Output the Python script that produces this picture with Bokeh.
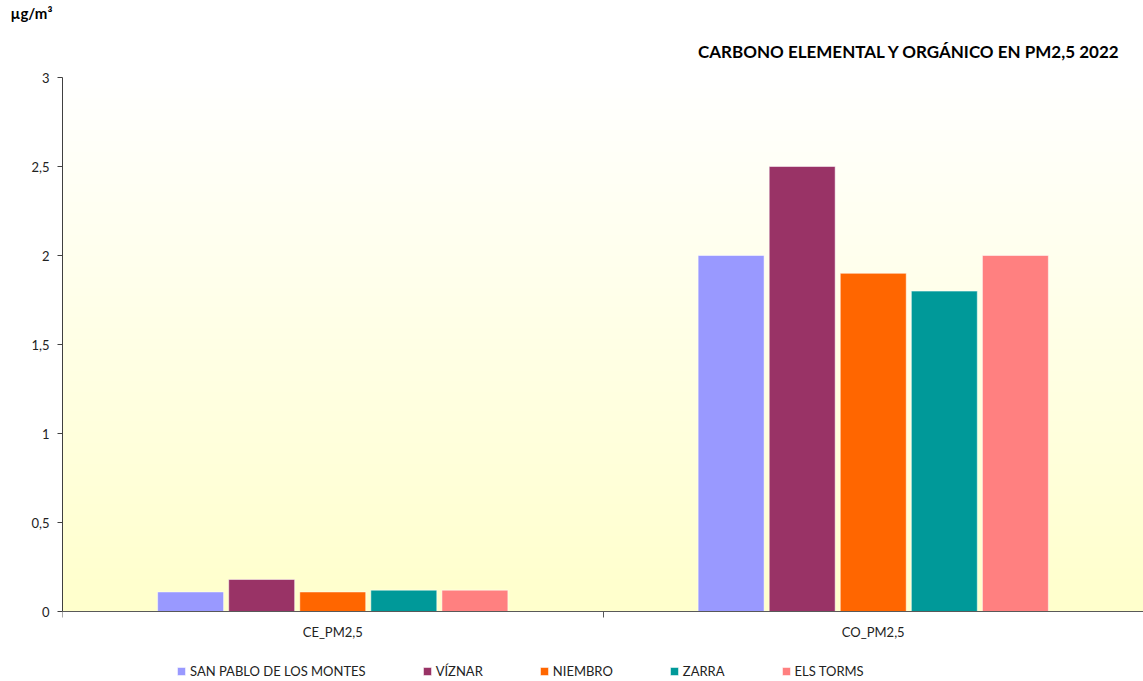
import numpy as np
from bokeh.plotting import figure
from bokeh.models import (FixedTicker, Legend, LegendItem, Title, Range1d, ColumnDataSource)
from bokeh.embed import file_html
from bokeh.resources import INLINE

categories = ["CE_PM2,5", "CO_PM2,5"]
stations = ["SAN PABLO DE LOS MONTES", "VÍZNAR", "NIEMBRO", "ZARRA", "ELS TORMS"]
colors = ["#9999FF", "#993366", "#FF6600", "#009999", "#FF8080"]
san_pablo = [0.11, 2.0]
viznar = [0.18, 2.5]
niembro = [0.11, 1.9]
zarra = [0.12, 1.8]
els_torms = [0.12, 2.0]
series = [san_pablo, viznar, niembro, zarra, els_torms]
y_ticks = [0, 0.5, 1, 1.5, 2, 2.5, 3]
y_labels = ["0", "0,5", "1", "1,5", "2", "2,5", "3"]

FONT = "Lato"

p = figure(frame_width=1081, frame_height=604,
           output_backend="svg", toolbar_location=None,
           x_range=Range1d(0, 2), y_range=Range1d(-0.393, 3),
           min_border_left=62, min_border_right=0, min_border_bottom=0, min_border_top=0)
p.outline_line_color = None
p.grid.visible = False
p.background_fill_color = "white"
p.border_fill_color = "white"

# background gradient (white at top -> light yellow at bottom)
n = 200
t = np.linspace(0, 1, n)  # row 0 = bottom
img = np.zeros((n, 1), dtype=np.uint32)
view = img.view(dtype=np.uint8).reshape((n, 1, 4))
view[:, 0, 0] = 255
view[:, 0, 1] = 255
view[:, 0, 2] = (204 + (255 - 204) * t).astype(np.uint8)
view[:, 0, 3] = 255
p.image_rgba(image=[img], x=0, y=0, dw=2, dh=3)

step = 0.1315
bw = 0.122
renderers = []
for j, (name, col, vals) in enumerate(zip(stations, colors, series)):
    xs = [i + 0.5 + (j - 2) * step for i in range(len(categories))]
    src = ColumnDataSource(dict(x=xs, top=vals))
    rr = p.vbar(x="x", top="top", width=bw, bottom=0, source=src, fill_color=col,
                line_color="white", line_alpha=0.5, line_width=1)
    renderers.append(rr)

# axes
p.xaxis.fixed_location = 0
p.xaxis.ticker = FixedTicker(ticks=[0.5, 1.5], minor_ticks=[0, 1, 2])
p.xaxis.major_label_overrides = {0.5: categories[0], 1.5: categories[1]}
p.xaxis.major_tick_out = 0
p.xaxis.major_tick_in = 0
p.xaxis.minor_tick_out = 6
p.xaxis.minor_tick_in = 0
p.xaxis.axis_line_color = "#595959"
p.xaxis.minor_tick_line_color = "#595959"
p.xaxis.major_label_text_font = FONT
p.xaxis.major_label_text_font_size = "13px"
p.xaxis.major_label_text_color = "#222222"
p.xaxis.major_label_standoff = 6

p.yaxis.bounds = (0, 3)
p.yaxis.ticker = FixedTicker(ticks=y_ticks)
p.yaxis.major_label_overrides = {k: v for k, v in zip(y_ticks, y_labels)}
p.yaxis.major_tick_out = 5
p.yaxis.major_tick_in = 0
p.yaxis.minor_tick_line_color = None
p.yaxis.axis_line_color = "#404040"
p.yaxis.major_tick_line_color = "#404040"
p.yaxis.major_label_text_font = FONT
p.yaxis.major_label_text_font_size = "13px"
p.yaxis.major_label_text_color = "#222222"
p.yaxis.major_label_standoff = 8

# titles
main_title = Title(text="CARBONO ELEMENTAL Y ORGÁNICO EN PM2,5 2022", align="right",
                   text_font=FONT, text_font_size="17px", text_font_style="bold",
                   text_color="black", offset=23, standoff=31)
unit_title = Title(text="µg/m³", align="left", text_font=FONT, text_font_size="15px",
                   text_font_style="bold", text_color="black", offset=-52, standoff=3)
p.add_layout(main_title, "above")
p.add_layout(unit_title, "above")

legend = Legend(items=[LegendItem(label=s, renderers=[r]) for s, r in zip(stations, renderers)],
                orientation="horizontal", location=(114, 2), glyph_width=10, glyph_height=10,
                label_standoff=4, spacing=56, border_line_color=None,
                background_fill_alpha=0, label_text_font=FONT, label_text_font_size="13px",
                label_text_color="#222222", padding=0, margin=0)
p.add_layout(legend, "center")

open("out.html", "w").write(file_html(p, INLINE))
